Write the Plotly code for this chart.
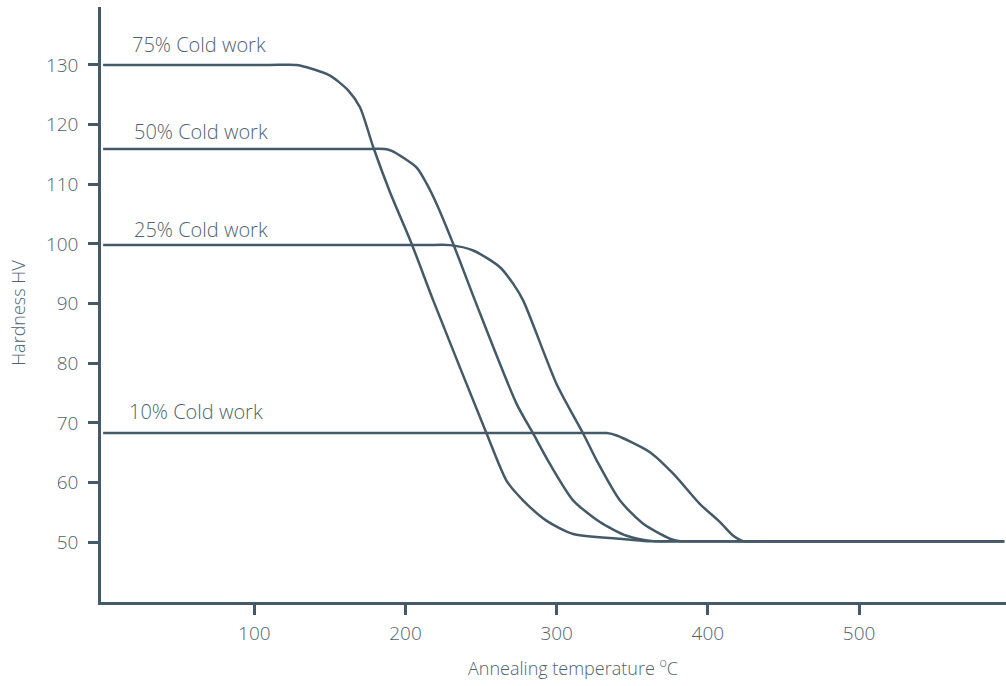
import plotly.graph_objects as go

# Annealing temperature (°C) and hardness (HV)
x_75 = [0, 110, 128, 134.7, 150.1, 162.2, 169.9, 178.7, 189.7, 204.1, 218.4, 253.7, 266.9, 277.9, 293.4, 311.0, 341.9, 360, 380, 596]
y_75 = [130, 130, 130, 129.6, 128.2, 125.7, 122.9, 116.2, 108.7, 100.0, 90.5, 68.2, 60.3, 57.0, 53.6, 51.4, 50.6, 50.2, 50.2, 50.2]

x_50 = [0, 170, 186.4, 190.9, 207.4, 214.0, 220.6, 231.6, 246.0, 273.5, 284.5, 295.6, 311.0, 328.6, 346.3, 363.9, 385, 596]
y_50 = [115.9, 115.9, 115.9, 115.6, 112.8, 110.1, 106.7, 100.0, 90.5, 73.2, 68.2, 63.1, 57.0, 53.4, 51.1, 50.2, 50.2, 50.2]

x_25 = [0, 212, 229.4, 244.8, 262.5, 271.3, 277.9, 300.0, 317.6, 326.5, 341.9, 357.3, 374.9, 381.5, 400, 596]
y_25 = [99.8, 99.8, 99.8, 98.9, 96.1, 93.3, 90.5, 76.5, 68.2, 63.7, 57.0, 53.1, 50.6, 50.2, 50.2, 50.2]

x_10 = [0, 318, 333.1, 339.7, 361.7, 377.1, 394.8, 408.0, 416.8, 423.4, 440, 596]
y_10 = [68.3, 68.3, 68.3, 67.9, 65.1, 61.5, 56.4, 53.4, 51.1, 50.2, 50.2, 50.2]

series_labels = ["75% Cold work", "50% Cold work", "25% Cold work", "10% Cold work"]
label_x = [17.5, 18.8, 18.8, 16.0]
label_y = [133.5, 118.8, 102.4, 71.9]

x_ticks = [100, 200, 300, 400, 500]
y_ticks = [50, 60, 70, 80, 90, 100, 110, 120, 130]

LINE = "#455a68"
TEXT = "#50636f"
FONT = "Open Sans"

fig = go.Figure()
for xs, ys in [(x_75, y_75), (x_50, y_50), (x_25, y_25), (x_10, y_10)]:
    fig.add_trace(go.Scatter(x=xs, y=ys, mode="lines",
                             line=dict(color=LINE, width=2.5, shape="spline", smoothing=0.7),
                             showlegend=False, hoverinfo="skip"))

for t, lx, ly in zip(series_labels, label_x, label_y):
    fig.add_annotation(x=lx, y=ly, text=t, showarrow=False, xanchor="left", yanchor="middle",
                       font=dict(family=FONT, size=20, color=TEXT, weight=300))

fig.add_annotation(x=310.8, y=-0.11, yref="paper", text="Annealing temperature <sup>o</sup>C",
                   showarrow=False, xanchor="center", yanchor="middle",
                   font=dict(family=FONT, size=18, color=TEXT, weight=300))
fig.add_annotation(x=-0.0917, y=0.486, xref="paper", yref="paper", text="Hardness HV",
                   textangle=-90, showarrow=False, xanchor="center", yanchor="middle",
                   font=dict(family=FONT, size=18, color=TEXT, weight=300))

fig.update_xaxes(range=[-1.4, 597.2], tickvals=x_ticks, showgrid=False, zeroline=False,
                 showline=True, linecolor=LINE, linewidth=2.5, ticks="outside", ticklen=10,
                 tickwidth=2.5, tickcolor=LINE, ticklabelstandoff=2,
                 tickfont=dict(family=FONT, size=19, color=TEXT, weight=300))
fig.update_yaxes(range=[40, 139.7], tickvals=y_ticks, showgrid=False, zeroline=False,
                 showline=True, linecolor=LINE, linewidth=2.5, ticks="outside", ticklen=10,
                 tickwidth=2.5, tickcolor=LINE, ticklabelstandoff=6,
                 tickfont=dict(family=FONT, size=19, color=TEXT, weight=300))

fig.update_layout(width=1006, height=686, margin=dict(l=101, r=0, t=7, b=84),
                  plot_bgcolor="white", paper_bgcolor="white")

fig.write_html("out.html", config={"displayModeBar": False})
